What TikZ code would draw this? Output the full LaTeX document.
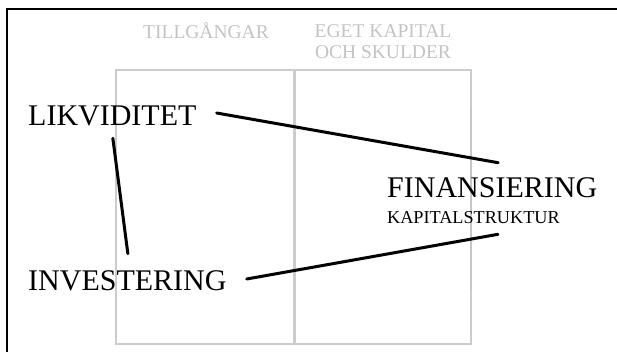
\documentclass[tikz,border=0pt]{standalone}
\usepackage{fontspec}
\setmainfont{Liberation Serif}
\usetikzlibrary{calc}
\definecolor{boxgray}{RGB}{204,204,204}
\definecolor{headgray}{RGB}{195,195,195}

\begin{document}
\begin{tikzpicture}[x=1pt, y=-1pt, main/.style = {inner sep=0pt, anchor=west, font=\fontsize{30}{30}\selectfont}, sub/.style = {inner sep=0pt, anchor=west, font=\fontsize{18.2}{18}\selectfont}, head/.style = {inner sep=0pt, text=headgray, align=center, font=\fontsize{19.5}{21}\selectfont}, sheet/.style = {draw=boxgray, line width=1.4pt}, link/.style = {line width=3pt, line cap=round}]
                \useasboundingbox (0,0) rectangle (617,352);
                \draw[line width=1.2pt] (7,352) -- (7,9) -- (617,9);
                \draw[sheet] (116,70) rectangle (294,344);
                \draw[sheet] (295,70) rectangle (471,344);
                \draw[draw=gray!45, line width=2pt] (471,107) -- (471,290);
                \draw[draw=gray!40, line width=1.8pt] (294.5,107) -- (294.5,290);
                \node[head] (tillg) at (206,31) {TILLGÅNGAR};
                \node[head] (eget) at (383,42) {EGET KAPITAL\\OCH SKULDER};
                \node[main] (lik) at (28,116) {LIKVIDITET};
                \node[main] (inv) at (28,281) {INVESTERING};
                \node[main] (fin) at (387,188) {FINANSIERING};
                \node[sub] (kap) at (387,218) {KAPITALSTRUKTUR};
                \draw[link] ($(lik.east)+(20,-3)$) -- ($(fin.north)+(6,-15)$);
                \draw[link] ($(lik.south)+(0.5,12)$) -- ($(inv.north)+(0.5,-17)$);
                \draw[link] ($(inv.east)+(20,-2)$) -- ($(kap.south)+(24.5,10)$);
            \end{tikzpicture}
\end{document}
